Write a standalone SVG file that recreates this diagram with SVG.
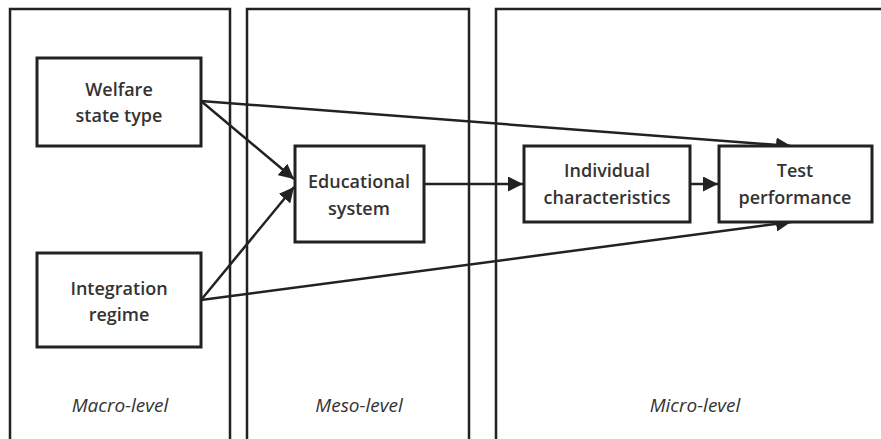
<svg xmlns="http://www.w3.org/2000/svg" width="881" height="439" viewBox="0 0 881 439">
<style>
.panel{fill:none;stroke:#222;stroke-width:2.5}
.box{fill:#fff;stroke:#222;stroke-width:3}
.t{font-family:"Open Sans","Liberation Sans",sans-serif;font-weight:600;font-size:18px;fill:#333;text-anchor:middle}
.lv{font-family:"Open Sans","Liberation Sans",sans-serif;font-style:italic;font-size:19px;fill:#333;text-anchor:middle}
.c{fill:none;stroke:#222;stroke-width:2.5}
</style>
<defs>
<marker id="ah" viewBox="0 0 10 10" refX="10" refY="5" markerWidth="6" markerHeight="6" orient="auto" markerUnits="strokeWidth">
<path d="M0,0 L10,5 L0,10 z" fill="#222"/>
</marker>
</defs>
<rect width="881" height="439" fill="#fff"/>
<g id="macro-panel"><rect class="panel" x="10" y="9" width="220" height="440"/><text class="lv" x="120" y="412">Macro-level</text></g>
<g id="meso-panel"><rect class="panel" x="247" y="9" width="222" height="440"/><text class="lv" x="359" y="412">Meso-level</text></g>
<g id="micro-panel"><rect class="panel" x="496" y="9" width="400" height="440"/><text class="lv" x="695" y="412">Micro-level</text></g>
<g id="connectors">
<line class="c" x1="201" y1="101" x2="791" y2="146" marker-end="url(#ah)"/>
<line class="c" x1="201" y1="101" x2="294" y2="179" marker-end="url(#ah)"/>
<line class="c" x1="201" y1="300" x2="294" y2="187" marker-end="url(#ah)"/>
<line class="c" x1="201" y1="300" x2="791" y2="222" marker-end="url(#ah)"/>
<line class="c" x1="424" y1="184" x2="523" y2="184" marker-end="url(#ah)"/>
<line class="c" x1="690" y1="184" x2="718" y2="184" marker-end="url(#ah)"/>
</g>
<g id="welfare"><rect class="box" x="37" y="58" width="164" height="88"/><text class="t" x="119" y="96">Welfare</text><text class="t" x="119" y="122">state type</text></g>
<g id="integration"><rect class="box" x="37" y="253" width="164" height="94"/><text class="t" x="119" y="295">Integration</text><text class="t" x="119" y="321">regime</text></g>
<g id="educational"><rect class="box" x="295" y="146" width="129" height="96"/><text class="t" x="359" y="188">Educational</text><text class="t" x="359" y="215">system</text></g>
<g id="individual"><rect class="box" x="524" y="146" width="166" height="76"/><text class="t" x="607" y="177">Individual</text><text class="t" x="607" y="204">characteristics</text></g>
<g id="test"><rect class="box" x="719" y="146" width="153" height="76"/><text class="t" x="795" y="177">Test</text><text class="t" x="795" y="204">performance</text></g>
</svg>
